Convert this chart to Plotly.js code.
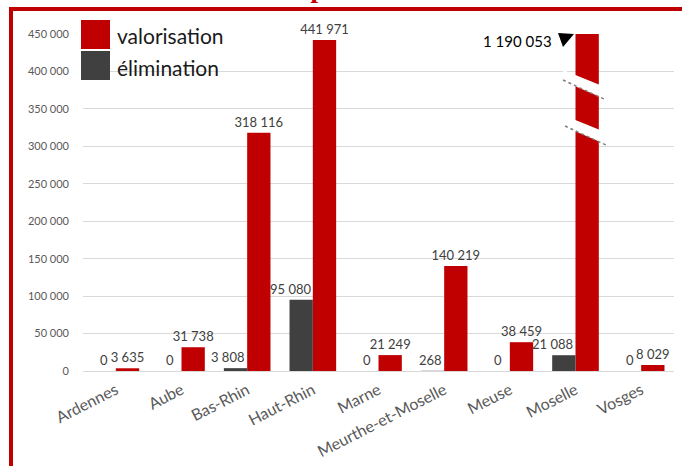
<!DOCTYPE html>
<html>
<head>
<meta charset="utf-8">
<script src="https://cdn.plot.ly/plotly-3.0.1.min.js"></script>
<style>
  html, body { margin:0; padding:0; background:#fff; overflow:hidden; }
  #wrap { position:relative; width:682px; height:466px; overflow:hidden; }
  #chart { position:absolute; left:0; top:0; width:682px; height:466px; }
  #frame { position:absolute; left:9px; top:7px; width:700px; height:500px;
           border-left:4px solid #c00000; border-top:4px solid #c00000; pointer-events:none; }
  #ttl { position:absolute; left:285px; top:-27px; font-family:"Liberation Serif", serif;
         font-weight:bold; font-size:27px; color:#c00000; white-space:nowrap; }
</style>
</head>
<body>
<div id="wrap">
  <div id="chart"></div>
  <div id="ttl">exportations</div>
  <div id="frame"></div>
</div>
<script>
// ---- data ----
var departements = ["Ardennes","Aube","Bas-Rhin","Haut-Rhin","Marne","Meurthe-et-Moselle","Meuse","Moselle","Vosges"];
var elimination  = [0, 0, 3808, 95080, 0, 268, 0, 21088, 0];
var valorisation = [3635, 31738, 318116, 441971, 21249, 140219, 38459, 1190053, 8029];
var seriesNames  = ["élimination", "valorisation"];
var yTicks = [0, 50000, 100000, 150000, 200000, 250000, 300000, 350000, 400000, 450000];
var yMax = 450000;

function fmt(v){ return String(v).replace(/\B(?=(\d{3})+(?!\d))/g, " "); }

var valText = valorisation.map(function(v){ return v > yMax ? "" : fmt(v); });
var brokenIdx = valorisation.findIndex(function(v){ return v > yMax; });

// pixel -> paper helpers for decorations (plot area 83..674 x, 34..371 y)
var L=83, R=674, T=34, B=371;
function px(x){ return (x-L)/(R-L); }
function py(y){ return (B-y)/(B-T); }

var labelFont = {family:"Lato, sans-serif", size:13, color:"#404040"};
var bw = 0.355;
var catPx = (R-L)/departements.length;

var traces = [
  {type:"bar", name:seriesNames[1], x:departements, y:valorisation, marker:{color:"#c00000"},
   width:bw, offset:0, constraintext:"none",
   text:valText, textposition:"outside", textfont:labelFont, cliponaxis:false, hoverinfo:"none"},
  {type:"bar", name:seriesNames[0], x:departements, y:elimination, marker:{color:"#404040"},
   width:bw, offset:-bw, hoverinfo:"none"}
];

// measure label widths to keep the dark-series labels left of the red bars
var cv = document.createElement("canvas").getContext("2d");
cv.font = "13px Lato";
var darkLabels = elimination.map(function(v, i){
  var t = fmt(v);
  var w = cv.measureText(t).width;
  var barCenter = -bw/2*catPx;               // px from category centre
  var shift = barCenter;
  if (barCenter + w/2 > -2) shift = -2 - w/2;
  return {xref:"x", yref:"y", x:departements[i], y:v, xanchor:"center", yanchor:"bottom",
          xshift:shift, yshift:1, showarrow:false, text:t, font:labelFont};
});

var shapes = [
  {type:"rect", xref:"paper", yref:"paper", x0:px(81), x1:px(110), y0:py(49), y1:py(20), fillcolor:"#c00000", line:{width:0}},
  {type:"rect", xref:"paper", yref:"paper", x0:px(81), x1:px(110), y0:py(80), y1:py(51), fillcolor:"#404040", line:{width:0}},
  {type:"path", xref:"paper", yref:"paper", fillcolor:"#ffffff", line:{width:0}, layer:"above",
   path:"M "+px(563)+" "+py(70)+" L "+px(605)+" "+py(87)+" L "+px(605)+" "+py(99)+" L "+px(563)+" "+py(81)+" Z"},
  {type:"path", xref:"paper", yref:"paper", fillcolor:"#ffffff", line:{width:0}, layer:"above",
   path:"M "+px(563)+" "+py(115)+" L "+px(605)+" "+py(132)+" L "+px(605)+" "+py(144)+" L "+px(563)+" "+py(126)+" Z"},
  {type:"line", xref:"paper", yref:"paper", x0:px(563), y0:py(80), x1:px(604), y1:py(99), line:{color:"#808080", width:1.5, dash:"dot"}, layer:"above"},
  {type:"line", xref:"paper", yref:"paper", x0:px(565), y0:py(126), x1:px(606), y1:py(145), line:{color:"#808080", width:1.5, dash:"dot"}, layer:"above"},
  {type:"path", xref:"paper", yref:"paper", fillcolor:"#000000", line:{width:0}, layer:"above",
   path:"M "+px(558)+" "+py(33)+" L "+px(574)+" "+py(34)+" L "+px(563)+" "+py(47)+" Z"}
];

var annotations = [
  {xref:"paper", yref:"paper", x:px(115), y:py(36), xanchor:"left", yanchor:"middle", showarrow:false,
   text:seriesNames[1], font:{family:"Lato, sans-serif", size:21, color:"#1a1a1a"}},
  {xref:"paper", yref:"paper", x:px(115), y:py(67), xanchor:"left", yanchor:"middle", showarrow:false,
   text:seriesNames[0], font:{family:"Lato, sans-serif", size:21, color:"#1a1a1a"}},
  {xref:"paper", yref:"paper", x:px(554), y:py(41), xanchor:"right", yanchor:"middle", showarrow:false,
   text:fmt(valorisation[brokenIdx]), font:{family:"Lato, sans-serif", size:15, color:"#000000"}}
].concat(darkLabels);

var layout = {
  width:682, height:466,
  margin:{l:L, r:682-R, t:T, b:466-B, pad:0},
  paper_bgcolor:"#ffffff", plot_bgcolor:"#ffffff",
  showlegend:false,
  barmode:"overlay",
  separators:", ",
  xaxis:{type:"category", showgrid:false, zeroline:false, showline:false, ticks:"",
         tickangle:-27, ticklabelstandoff:6, tickfont:{family:"Lato, sans-serif", size:16, color:"#595959"}},
  yaxis:{range:[0, yMax], tickvals:yTicks, ticktext:yTicks.map(fmt), showgrid:true, gridcolor:"#d9d9d9", gridwidth:1,
         zeroline:true, zerolinecolor:"#d9d9d9", showline:false, ticks:"", ticklabelstandoff:13,
         tickfont:{family:"Lato, sans-serif", size:11, color:"#595959"}},
  shapes:shapes, annotations:annotations
};

Plotly.newPlot("chart", traces, layout, {staticPlot:true, displayModeBar:false});
</script>
</body>
</html>
